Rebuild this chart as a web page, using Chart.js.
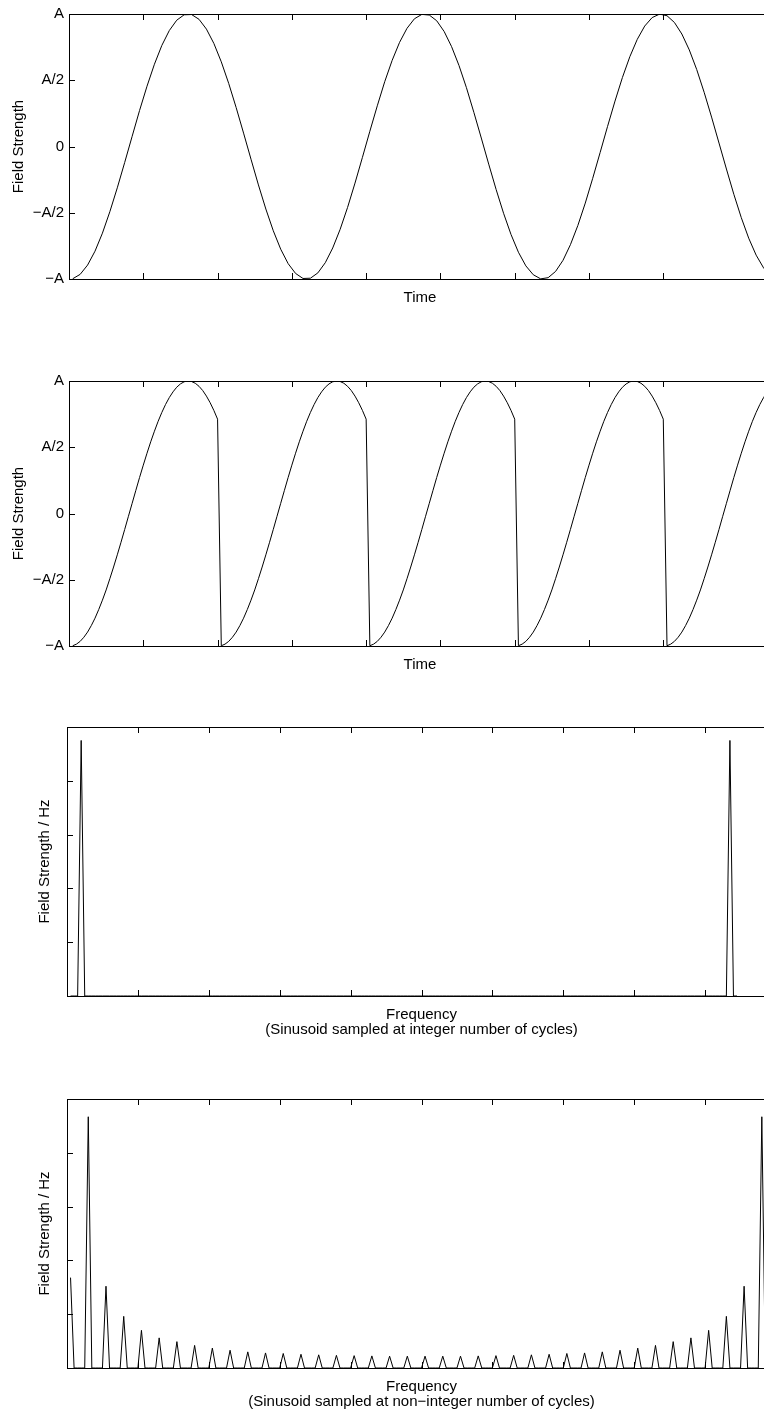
<!DOCTYPE html>
<html>
<head>
<meta charset="utf-8">
<script src="https://cdn.jsdelivr.net/npm/chart.js@4.4.0/dist/chart.umd.min.js"></script>
<style>
html, body { margin: 0; padding: 0; overflow: hidden; background: #fff; }
#page { position: relative; width: 764px; height: 1413px; overflow: hidden; }
canvas { position: absolute; left: 0; }
</style>
</head>
<body>
<div id="page">
<canvas id="timePure" width="780" height="340" style="top:0px"></canvas>
<canvas id="timeTiled" width="780" height="360" style="top:340px"></canvas>
<canvas id="freqPure" width="780" height="370" style="top:700px"></canvas>
<canvas id="freqLeak" width="780" height="343" style="top:1070px"></canvas>
</div>
<script>
// y tick labels of the two time plots
const fieldTicks = [-1, -0.5, 0, 0.5, 1];
const fieldTickLabels = ['\u2212A', '\u2212A/2', '0', 'A/2', 'A'];

// top plot: sinusoid, one sample every 0.1 time units starting at 0.05
const sineStart = 0.05, sineStep = 0.1;
const sineField = [
  -0.998, -0.965, -0.895, -0.790, -0.654, -0.492, -0.312, -0.120, 0.077, 0.272,
  0.455, 0.621, 0.763, 0.875, 0.953, 0.994, 0.996, 0.960, 0.886, 0.778,
  0.639, 0.476, 0.294, 0.101, -0.096, -0.290, -0.472, -0.636, -0.775, -0.884,
  -0.958, -0.996, -0.994, -0.954, -0.877, -0.766, -0.625, -0.460, -0.276, -0.082,
  0.115, 0.307, 0.489, 0.650, 0.786, 0.892, 0.964, 0.997, 0.992, 0.949,
  0.868, 0.754, 0.611, 0.444, 0.258, 0.064, -0.133, -0.325, -0.504, -0.664,
  -0.798, -0.901, -0.968, -0.999, -0.990, -0.943, -0.859, -0.741, -0.596, -0.427,
  -0.240, -0.045, 0.152, 0.343, 0.521, 0.678, 0.809, 0.909, 0.973, 0.999,
  0.987, 0.936, 0.849, 0.729, 0.581, 0.409, 0.222, 0.026, -0.170, -0.361,
  -0.537, -0.692, -0.820, -0.916, -0.977
];

// second plot: one sampled window (not a whole cycle), repeated end to end
const windowStep = 0.05, windowLength = 2, windowCount = 5;
const windowField = [
  -0.998, -0.986, -0.965, -0.934, -0.895, -0.846, -0.790, -0.725, -0.654, -0.577,
  -0.492, -0.404, -0.312, -0.217, -0.120, -0.021, 0.077, 0.175, 0.272, 0.365,
  0.455, 0.541, 0.621, 0.696, 0.763, 0.823, 0.875, 0.918, 0.953, 0.978,
  0.994, 1.000, 0.996, 0.983, 0.960, 0.928, 0.886, 0.836, 0.778, 0.712
];

// third plot: spectrum, integer number of cycles -> two lines only
const pureLength = 189;
const pureBins = [4, 187];
const pureMags = [95, 95];

// fourth plot: spectrum, non-integer cycles -> leakage at every fifth bin
const leakLength = 200;
const leakBins = [
  1, 6, 11, 16, 21, 26, 31, 36, 41, 46,
  51, 56, 61, 66, 71, 76, 81, 86, 91, 96,
  101, 106, 111, 116, 121, 126, 131, 136, 141, 146,
  151, 156, 161, 166, 171, 176, 181, 186, 191, 196
];
const leakMags = [
  33.6, 93.4, 30.4, 19.2, 14.0, 11.2, 9.8, 8.4, 7.4, 6.6,
  6.0, 5.6, 5.4, 5.1, 4.9, 4.7, 4.6, 4.5, 4.4, 4.4,
  4.4, 4.4, 4.4, 4.5, 4.6, 4.7, 4.9, 5.1, 5.4, 5.6,
  6.0, 6.6, 7.4, 8.4, 9.8, 11.2, 14.0, 19.2, 30.4, 93.4
];

Chart.defaults.font.family = '"Liberation Sans", Arial, Helvetica, sans-serif';
Chart.defaults.font.size = 15;
Chart.defaults.font.lineHeight = 1;
Chart.defaults.color = '#000';

const TICK_LEN = 6;

// matlab style box with ticks pointing inwards
const boxTicks = {
  id: 'boxTicks',
  afterDatasetsDraw(chart) {
    const {ctx, chartArea: a, scales: {x, y}} = chart;
    ctx.save();
    ctx.strokeStyle = '#000';
    ctx.lineWidth = 1;
    ctx.beginPath();
    x.ticks.forEach(t => {
      const px = Math.round(x.getPixelForValue(t.value)) + 0.5;
      ctx.moveTo(px, a.bottom); ctx.lineTo(px, a.bottom - TICK_LEN);
      ctx.moveTo(px, a.top); ctx.lineTo(px, a.top + TICK_LEN);
    });
    y.ticks.forEach(t => {
      const py = Math.round(y.getPixelForValue(t.value)) + 0.5;
      ctx.moveTo(a.left, py); ctx.lineTo(a.left + TICK_LEN, py);
      ctx.moveTo(a.right, py); ctx.lineTo(a.right - TICK_LEN, py);
    });
    ctx.stroke();
    ctx.strokeRect(Math.round(a.left) + 0.5, Math.round(a.top) + 0.5,
      Math.round(a.right - a.left), Math.round(a.bottom - a.top));
    ctx.restore();
  }
};

function spectrum(length, bins, mags) {
  const pts = [];
  for (let i = 1; i <= length; i++) {
    const k = bins.indexOf(i);
    pts.push({x: i, y: k < 0 ? 0 : mags[k]});
  }
  return pts;
}

function panel(id, points, o) {
  const canvas = document.getElementById(id);
  const lines = Array.isArray(o.xTitle) ? o.xTitle.length : 1;
  const xPad = o.xHeight - 19.1 - 7.5 - 15 * (lines - 1);
  new Chart(canvas, {
    type: 'line',
    data: {
      datasets: [{
        data: points,
        borderColor: '#000',
        borderWidth: 1,
        pointRadius: 0,
        tension: 0,
        fill: false
      }]
    },
    options: {
      responsive: false,
      animation: false,
      events: [],
      layout: { padding: { top: o.top, right: canvas.width - o.right, bottom: 0, left: 0 } },
      plugins: { legend: { display: false }, tooltip: { enabled: false } },
      scales: {
        x: {
          type: 'linear',
          min: o.xMin, max: o.xMax,
          ticks: { display: false, stepSize: o.xStep },
          grid: { display: false, drawTicks: false },
          border: { display: false },
          title: { display: true, text: o.xTitle, padding: { top: 0, bottom: xPad } },
          afterFit: s => { s.height = o.xHeight; }
        },
        y: {
          min: o.yMin, max: o.yMax,
          ticks: {
            display: o.yLabels,
            stepSize: o.yStep,
            padding: 5,
            callback: v => fieldTickLabels[fieldTicks.indexOf(v)] ?? ''
          },
          grid: { display: false, drawTicks: false },
          border: { display: false },
          title: { display: true, text: o.yTitle, padding: { top: o.yTitlePad, bottom: 0 } },
          afterFit: s => { s.width = o.left; }
        }
      }
    },
    plugins: [boxTicks]
  });
}

const purePoints = sineField.map((v, j) => ({x: sineStart + sineStep * j, y: v}));

const tiledPoints = [];
for (let w = 0; w < windowCount; w++) {
  windowField.forEach((v, k) => {
    tiledPoints.push({x: w * windowLength + windowStep * (k + 1), y: v});
  });
}

const timeOpts = { left: 69, right: 771, xMin: 0, xMax: 9.45, xStep: 1,
  yMin: -1, yMax: 1, yStep: 0.5, yLabels: true, yTitle: 'Field Strength', yTitlePad: 11, xTitle: 'Time' };
const freqOpts = { left: 67, right: 776, xMin: 0, xMax: 200, xStep: 20,
  yMin: 0, yMax: 100, yStep: 20, yLabels: false, yTitle: 'Field Strength / Hz', yTitlePad: 37.7 };

panel('timePure', purePoints, {...timeOpts, top: 14, xHeight: 61});
panel('timeTiled', tiledPoints, {...timeOpts, top: 41, xHeight: 54});
panel('freqPure', spectrum(pureLength, pureBins, pureMags), {...freqOpts, top: 27, xHeight: 74,
  xTitle: ['Frequency', '(Sinusoid sampled at integer number of cycles)']});
panel('freqLeak', spectrum(leakLength, leakBins, leakMags), {...freqOpts, top: 29, xHeight: 45,
  xTitle: ['Frequency', '(Sinusoid sampled at non\u2212integer number of cycles)']});
</script>
</body>
</html>
